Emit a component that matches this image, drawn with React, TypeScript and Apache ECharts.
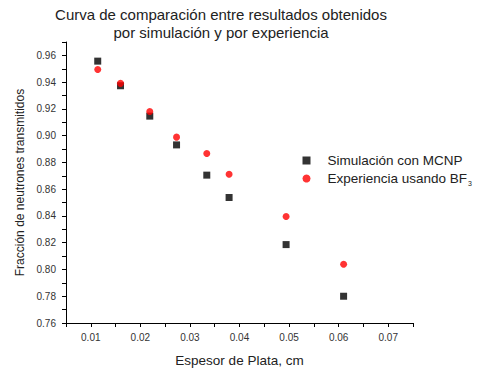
import React, { useEffect, useRef } from "react";
import * as echarts from "echarts";

const titleLines = ["Curva de comparación entre resultados obtenidos", "por simulación y por experiencia"];
const seriesNames = ["Simulación con MCNP", "Experiencia usando BF3"];
const thickness = [0.0114, 0.016, 0.0219, 0.0273, 0.0334, 0.0379, 0.0494, 0.061];
const simValues = [0.9557, 0.9373, 0.9146, 0.8931, 0.8705, 0.8538, 0.8186, 0.78];
const expValues = [0.9495, 0.9391, 0.9181, 0.8989, 0.8867, 0.8712, 0.8396, 0.8039];
const xAxisName = "Espesor de Plata, cm";
const yAxisName = "Fracción de neutrones transmitidos";

const FONT = "'Liberation Sans', Arial, sans-serif";
const TXT = "#222";

export default function App() {
  const ref = useRef<HTMLDivElement>(null);
  useEffect(() => {
    if (!ref.current) return;
    const chart = echarts.init(ref.current, null, { renderer: "svg" });
    chart.setOption({
      animation: false,
      backgroundColor: "#fff",
      title: {
        text: titleLines.join("\n"),
        left: 216,
        top: 0,
        textAlign: "center",
        textStyle: { fontFamily: FONT, fontSize: 15, fontWeight: "normal", color: TXT, lineHeight: 18 },
      },
      legend: {
        orient: "vertical",
        left: 302.5,
        top: 153,
        padding: 0,
        itemWidth: 8,
        itemHeight: 8,
        itemGap: 2,
        data: seriesNames,
        formatter: (name: string) => (name === seriesNames[1] ? "Experiencia usando BF{sub|3}" : name),
        textStyle: {
          fontFamily: FONT,
          fontSize: 13.5,
          color: TXT,
          lineHeight: 15,
          padding: [0, 0, 0, 12],
          rich: { sub: { fontFamily: FONT, fontSize: 7, color: TXT, padding: [10, 0, 0, 1], lineHeight: 15 } },
        },
      },
      grid: { left: 66, right: 64, top: 42, bottom: 46, outerBoundsMode: "none" },
      xAxis: {
        type: "value",
        min: 0.005,
        max: 0.075,
        interval: 0.005,
        name: xAxisName,
        nameLocation: "middle",
        nameGap: 30,
        nameTextStyle: { fontFamily: FONT, fontSize: 13.5, color: TXT },
        axisLine: { onZero: false, lineStyle: { color: "#000", width: 1 } },
        axisTick: { inside: false, length: 4, lineStyle: { color: "#000" } },
        splitLine: { show: false },
        axisLabel: {
          fontFamily: FONT,
          fontSize: 10,
          color: "#333",
          margin: 9,
          showMinLabel: true,
          showMaxLabel: true,
          formatter: (v: number) => (Math.round(v * 1000) % 10 === 0 ? v.toFixed(2) : ""),
        },
      },
      yAxis: {
        type: "value",
        min: 0.76,
        max: 0.97,
        interval: 0.01,
        name: yAxisName,
        nameLocation: "middle",
        nameGap: 40,
        nameTextStyle: { fontFamily: FONT, fontSize: 12, color: TXT },
        axisLine: { show: true, onZero: false, lineStyle: { color: "#000", width: 1 } },
        axisTick: { show: true, inside: false, length: 4, lineStyle: { color: "#000" } },
        splitLine: { show: false },
        axisLabel: {
          fontFamily: FONT,
          fontSize: 10,
          color: "#333",
          margin: 10,
          formatter: (v: number) => (Math.round(v * 100) % 2 === 0 ? v.toFixed(2) : ""),
        },
      },
      series: [
        {
          name: seriesNames[0],
          type: "scatter",
          symbol: "rect",
          symbolSize: 7,
          itemStyle: { color: "#000" },
          data: thickness.map((x, i) => [x, simValues[i]]),
        },
        {
          name: seriesNames[1],
          type: "scatter",
          symbol: "circle",
          symbolSize: 7,
          itemStyle: { color: "#ff0000" },
          data: thickness.map((x, i) => [x, expValues[i]]),
        },
      ],
    });
    return () => chart.dispose();
  }, []);
  return <div ref={ref} style={{ width: 477, height: 369, position: "absolute", left: 0, top: 0 }} />;
}
